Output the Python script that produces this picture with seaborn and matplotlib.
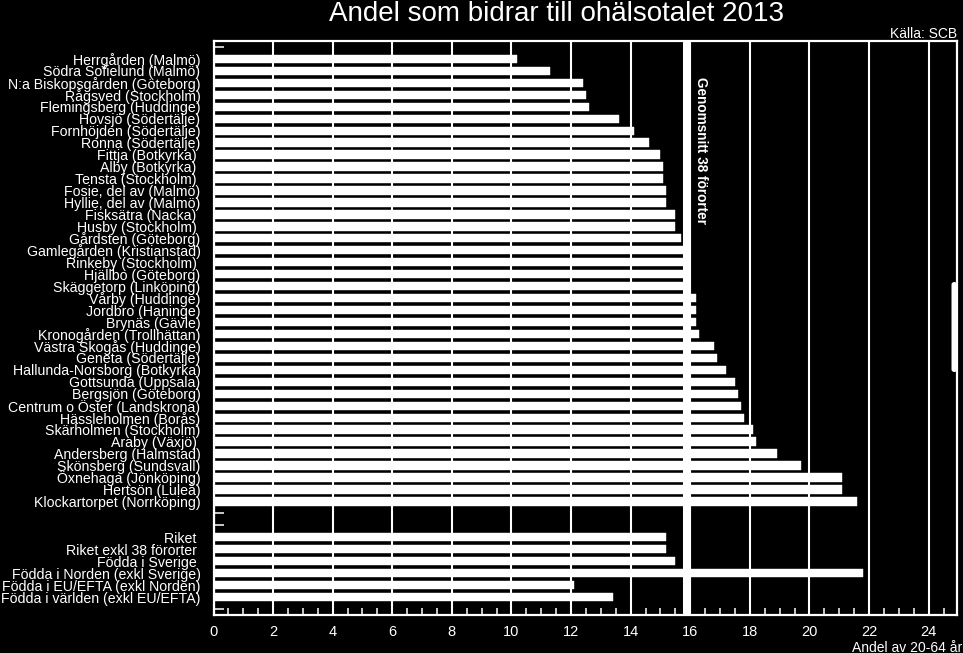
import matplotlib
matplotlib.use("Agg")
import matplotlib.pyplot as plt
import matplotlib.transforms as mtransforms
from matplotlib.patches import FancyBboxPatch
from matplotlib.ticker import MultipleLocator
import pandas as pd
import seaborn as sns

# ---------------- data ----------------
title = "Andel som bidrar till ohälsotalet 2013"
source = "Källa: SCB"
x_label = "Andel av 20-64 år"
avg_label = "Genomsnitt 38 förorter"

suburbs = [
    "Herrgården (Malmö)", "Södra Sofielund (Malmö)", "N:a Biskopsgården (Göteborg)",
    "Rågsved (Stockholm)", "Flemingsberg (Huddinge)", "Hovsjö (Södertälje)",
    "Fornhöjden (Södertälje)", "Ronna (Södertälje)", "Fittja (Botkyrka) ",
    "Alby (Botkyrka) ", "Tensta (Stockholm) ", "Fosie, del av (Malmö)",
    "Hyllie, del av (Malmö)", "Fisksätra (Nacka) ", "Husby (Stockholm) ",
    "Gårdsten (Göteborg)", "Gamlegården (Kristianstad)", "Rinkeby (Stockholm) ",
    "Hjällbo (Göteborg)", "Skäggetorp (Linköping)", "Vårby (Huddinge)",
    "Jordbro (Haninge)", "Brynäs (Gävle)", "Kronogården (Trollhättan)",
    "Västra Skogås (Huddinge)", "Geneta (Södertälje)", "Hallunda-Norsborg (Botkyrka)",
    "Gottsunda (Uppsala)", "Bergsjön (Göteborg)", "Centrum o Öster (Landskrona)",
    "Hässleholmen (Borås)", "Skärholmen (Stockholm)", "Araby (Växjö) ",
    "Andersberg (Halmstad)", "Skönsberg (Sundsvall)", "Öxnehaga (Jönköping)",
    "Hertsön (Luleå)", "Klockartorpet (Norrköping)",
]
suburb_values = [
    10.2, 11.3, 12.4, 12.5, 12.6, 13.6, 14.1, 14.6, 15.0, 15.1,
    15.1, 15.2, 15.2, 15.5, 15.5, 15.7, 15.8, 15.9, 15.9, 16.0,
    16.2, 16.2, 16.2, 16.3, 16.8, 16.9, 17.2, 17.5, 17.6, 17.7,
    17.8, 18.1, 18.2, 18.9, 19.7, 21.1, 21.1, 21.6,
]

national = [
    "Riket ", "Riket exkl 38 förorter ", "Födda i Sverige ",
    "Födda i Norden (exkl Sverige)", "Födda i EU/EFTA (exkl Norden)",
    "Födda i världen (exkl EU/EFTA)",
]
national_values = [15.2, 15.2, 15.5, 21.8, 12.1, 13.4]

average_38 = 15.9
x_ticks = [0, 2, 4, 6, 8, 10, 12, 14, 16, 18, 20, 22, 24]

# empty category slots (distinct blank labels)
blanks = [" " * 1, " " * 2, " " * 3, " " * 4]
order = [blanks[0]] + suburbs + [blanks[1], blanks[2]] + national + [blanks[3]]

df = pd.DataFrame({
    "label": suburbs + national,
    "value": suburb_values + national_values,
})

# ---------------- style ----------------
sns.set_theme(style="dark")
plt.rcParams["font.family"] = ["Liberation Sans", "DejaVu Sans"]
plt.rcParams["text.color"] = "white"
plt.rcParams["axes.edgecolor"] = "white"
plt.rcParams["xtick.color"] = "white"
plt.rcParams["ytick.color"] = "white"

W, H = 963, 653
fig = plt.figure(figsize=(W / 100, H / 100), dpi=100, facecolor="black")
left_px, right_px, top_px, bot_px = 213.5, 957, 41, 615
ax = fig.add_axes([left_px / W, (H - bot_px) / H,
                   (right_px - left_px) / W, (bot_px - top_px) / H])
ax.set_facecolor("black")
ax.set_axisbelow(True)

sns.barplot(data=df, x="value", y="label", order=order, orient="h",
            color="white", saturation=1, width=0.7, edgecolor="white",
            linewidth=0.3, errorbar=None, ax=ax)

ax.set_xlim(0, 24.95)
ax.set_xticks(x_ticks)
ax.set_xticklabels([str(t) for t in x_ticks])
ax.xaxis.set_minor_locator(MultipleLocator(0.5))
ax.set_xlabel("")
ax.set_ylabel("")

ax.xaxis.grid(True, color="white", linewidth=1.5)
ax.yaxis.grid(False)

for s in ax.spines.values():
    s.set_visible(True)
    s.set_color("white")
    s.set_linewidth(1.6)

ax.tick_params(axis="x", which="major", direction="in", length=5, width=1.1,
               pad=7, labelsize=10.5, colors="white", bottom=True)
ax.tick_params(axis="x", which="minor", direction="in", length=5, width=1.1,
               colors="white", bottom=True)
ax.tick_params(axis="y", which="major", direction="in", length=7, width=1.1,
               pad=9.4, labelsize=10.2, colors="white", left=True)

# average line
ax.axvline(average_38, ymin=0.004, ymax=0.996, color="white", linewidth=5.8,
           solid_capstyle="round", zorder=4)
ax.text(average_38 + 0.47, 0.81, avg_label, transform=ax.get_xaxis_transform(),
        rotation=270, ha="center", va="center", fontsize=9.8,
        fontweight="bold", color="white", zorder=5)

# texts
fig.text(556 / W, 1 - 20.7 / H, title, ha="center", va="baseline",
         fontsize=20, color="white")
fig.text(957 / W, 1 - 37.7 / H, source, ha="right", va="baseline",
         fontsize=10, color="white")
fig.text(852 / W, 1.0 / H, x_label, ha="left", va="baseline",
         fontsize=10, color="white")

# small rounded handle on the right frame
handle = FancyBboxPatch((951.5, H - 372), 5.5, 90,
                        boxstyle="round,pad=0,rounding_size=2.7",
                        transform=mtransforms.IdentityTransform(),
                        facecolor="white", edgecolor="none", zorder=6)
fig.patches.append(handle)

fig.savefig("out.png", dpi=100, facecolor="black")
